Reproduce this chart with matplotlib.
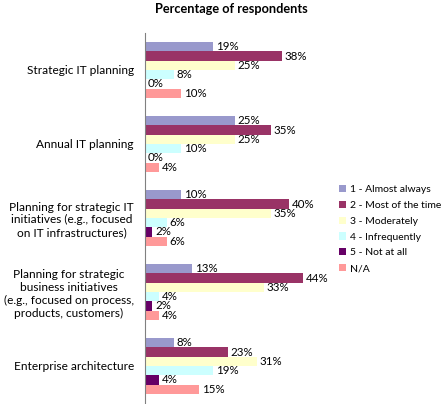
import matplotlib.pyplot as plt
import numpy as np
from matplotlib.patches import Patch

plt.rcParams['font.family'] = ['Lato', 'DejaVu Sans']

# Data
categories = [
    "Strategic IT planning",
    "Annual IT planning",
    "Planning for strategic IT\ninitiatives (e.g., focused\non IT infrastructures)",
    "Planning for strategic\nbusiness initiatives\n(e.g., focused on process,\nproducts, customers)",
    "Enterprise architecture",
]
series_names = ["1 - Almost always", "2 - Most of the time", "3 - Moderately",
                "4 - Infrequently", "5 - Not at all", "N/A"]
almost_always = [19, 25, 10, 13, 8]
most_of_time = [38, 35, 40, 44, 23]
moderately = [25, 25, 35, 33, 31]
infrequently = [8, 10, 6, 4, 19]
not_at_all = [0, 0, 2, 2, 4]
not_applicable = [10, 4, 6, 4, 15]
colors = ["#9999CC", "#993366", "#FFFFCC", "#CCFFFF", "#660066", "#FF9999"]

series = [almost_always, most_of_time, moderately, infrequently, not_at_all, not_applicable]

fig = plt.figure(figsize=(4.45, 4.04), dpi=100)
ax = fig.add_axes([145 / 445, 1 / 404, 180 / 445, 370 / 404])

n = len(series)
bar_h = 0.126
y = np.arange(len(categories))
for i, (vals, col) in enumerate(zip(series, colors)):
    pos = y + (i - (n - 1) / 2) * bar_h
    ax.barh(pos, vals, height=bar_h, color=col, edgecolor='none')
    for p, v in zip(pos, vals):
        ax.text(v + 0.8, p, f"{v}%", va='center', ha='left', fontsize=8.3)

ax.set_ylim(len(categories) - 0.5, -0.5)
ax.set_xlim(0, 50)
ax.set_yticks(y)
ax.set_yticklabels(categories, fontsize=8.6, multialignment='center')
ax.tick_params(axis='y', length=0, pad=8)
ax.set_xticks([])
for s in ['top', 'right', 'bottom']:
    ax.spines[s].set_visible(False)
ax.spines['left'].set_color('#808080')

fig.text(231 / 445, 1 - 9 / 404, "Percentage of respondents", ha='center', va='center',
         fontsize=9.2, fontweight='bold')

handles = [Patch(facecolor=c, edgecolor='none') for c in colors]
fig.legend(handles, series_names, loc='upper left', bbox_to_anchor=(335 / 445, 1 - 181 / 404),
           frameon=False, fontsize=7.5, handlelength=0.7, handleheight=0.7,
           handletextpad=0.3, labelspacing=0.62, borderaxespad=0)

fig.savefig("out.png", dpi=100)
